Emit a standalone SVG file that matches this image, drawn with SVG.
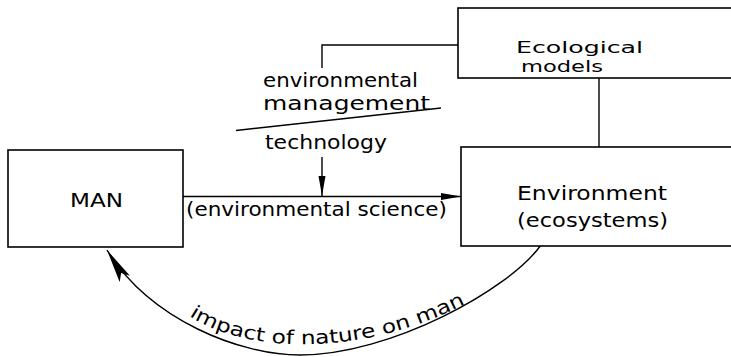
<svg xmlns="http://www.w3.org/2000/svg" width="731" height="357" viewBox="0 0 731 357">
  <style>
    .box { fill: #fff; stroke: #000; stroke-width: 1.6; }
    .line { fill: none; stroke: #000; stroke-width: 1.4; }
    .txt { font-family: "DejaVu Sans", "Liberation Sans", sans-serif; font-size: 19px; fill: #000; }
    .small { font-size: 16px; }
  </style>
  <defs>
    <marker id="arrowSmall" viewBox="-20 -4 21 8" refX="0" refY="0" markerWidth="21" markerHeight="8" markerUnits="userSpaceOnUse" orient="auto">
      <path d="M0,0 L-20,-3.5 L-20,3.5 Z" fill="#000"/>
    </marker>
    <marker id="arrowDart" viewBox="-34 -7 35 14" refX="0" refY="0" markerWidth="35" markerHeight="14" markerUnits="userSpaceOnUse" orient="auto">
      <path d="M0,0 L-34,-6 L-27,0 L-34,6 Z" fill="#000"/>
    </marker>
    <path id="impactPath" d="M185,313 C240,353 360,361 475,299"/>
  </defs>

  <rect width="731" height="357" fill="#fff"/>

  <g id="connectors">
    <!-- Ecological models to management / technology branch -->
    <polyline class="line" points="458,45 322,45 322,68"/>
    <!-- separator between management and technology -->
    <line class="line" x1="236" y1="130.5" x2="441" y2="108"/>
    <!-- technology arrow onto the science link -->
    <line class="line" x1="322" y1="157" x2="322" y2="196" marker-end="url(#arrowSmall)"/>
    <!-- MAN to Environment -->
    <line class="line" x1="183" y1="196.5" x2="461" y2="196.5" marker-end="url(#arrowSmall)"/>
    <!-- Ecological models to Environment -->
    <line class="line" x1="599" y1="78" x2="599" y2="147"/>
    <!-- impact of nature on man -->
    <path class="line" d="M541,245 C509,290 390,355 300,355 C240,355 150,320 107,250" marker-end="url(#arrowDart)"/>
  </g>

  <g id="node-man">
    <rect class="box" x="8" y="150" width="175" height="97"/>
    <text class="txt" x="70" y="207" textLength="53" lengthAdjust="spacingAndGlyphs">MAN</text>
  </g>

  <g id="node-ecological-models">
    <rect class="box" x="458" y="8" width="300" height="70"/>
    <text class="txt small" x="516" y="53" textLength="127" lengthAdjust="spacingAndGlyphs">Ecological</text>
    <text class="txt small" x="521" y="72" textLength="82" lengthAdjust="spacingAndGlyphs">models</text>
  </g>

  <g id="node-environment">
    <rect class="box" x="461" y="147" width="300" height="99"/>
    <text class="txt" x="517" y="200" textLength="150" lengthAdjust="spacingAndGlyphs">Environment</text>
    <text class="txt" x="517" y="227" textLength="151" lengthAdjust="spacingAndGlyphs">(ecosystems)</text>
  </g>

  <g id="labels">
    <text class="txt" x="263" y="87" textLength="155" lengthAdjust="spacingAndGlyphs">environmental</text>
    <text class="txt" x="263" y="110" textLength="167" lengthAdjust="spacingAndGlyphs">management</text>
    <text class="txt" x="265" y="149" textLength="122" lengthAdjust="spacingAndGlyphs">technology</text>
    <text class="txt" x="186" y="216" textLength="261" lengthAdjust="spacingAndGlyphs">(environmental science)</text>
    <text class="txt">
      <textPath href="#impactPath" startOffset="5" textLength="288" lengthAdjust="spacingAndGlyphs">impact of nature on man</textPath>
    </text>
  </g>
</svg>
